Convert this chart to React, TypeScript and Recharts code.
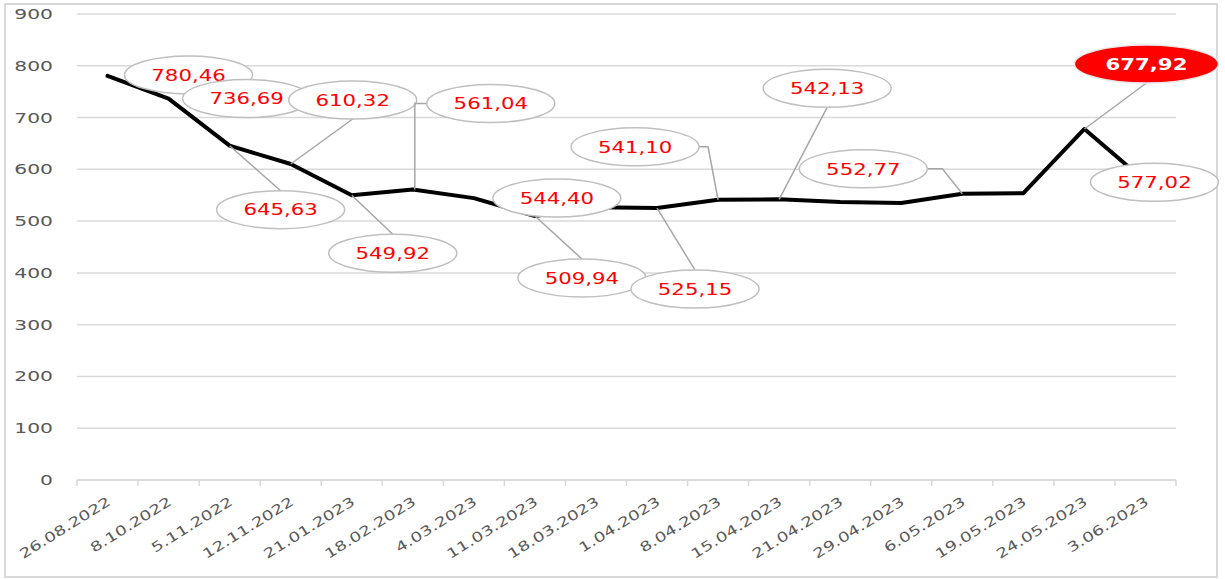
import { LineChart, Line, XAxis, YAxis, CartesianGrid, LabelList } from "recharts"

const DATES = [
  "26.08.2022", "8.10.2022", "5.11.2022", "12.11.2022", "21.01.2023", "18.02.2023",
  "4.03.2023", "11.03.2023", "18.03.2023", "1.04.2023", "8.04.2023", "15.04.2023",
  "21.04.2023", "29.04.2023", "6.05.2023", "19.05.2023", "24.05.2023", "3.06.2023",
]
const PRICES = [
  780.46, 736.69, 645.63, 610.32, 549.92, 561.04,
  544.4, 509.94, 527, 525.15, 541.1, 542.13,
  537, 535, 552.77, 554, 677.92, 577.02,
]
const Y_TICKS = [0, 100, 200, 300, 400, 500, 600, 700, 800, 900]

const W = 1225
const H = 579
const GRID = "#d9d9d9"
const TXT = "#595959"
const RED = "#ff0000"
const FONT = "'DejaVu Sans', Verdana, sans-serif"
const BAND = (1176 - 77) / DATES.length

// where each bubble sits relative to its point, and how the leader is drawn
type Lead = "none" | "line" | "up" | "side"
interface Bubble { dx: number; dy: number; lead: Lead; elbow?: number; hot?: boolean }
const BUBBLES: (Bubble | null)[] = [
  { dx: 81, dy: -1, lead: "none" },
  { dx: 78, dy: 0, lead: "none" },
  { dx: 51, dy: 64, lead: "line" },
  { dx: 62, dy: -64, lead: "line" },
  { dx: 41, dy: 58, lead: "line" },
  { dx: 78, dy: -86, lead: "up" },
  { dx: 83, dy: 0, lead: "none" },
  { dx: 47, dy: 62, lead: "line" },
  null,
  { dx: 38, dy: 81, lead: "line" },
  { dx: -83, dy: -53, lead: "side", elbow: 10 },
  { dx: 48, dy: -111, lead: "line" },
  null,
  null,
  { dx: -99, dy: -25, lead: "side", elbow: 20 },
  null,
  { dx: 62, dy: -65, lead: "line", hot: true },
  { dx: 9, dy: 1, lead: "none" },
]

const data = DATES.map((d, i) => ({ date: d, price: PRICES[i] }))

const fmt = (v: number) => v.toFixed(2).replace(".", ",")

function BubbleLabel(props: any) {
  const i = props.index
  const b = BUBBLES[i]
  if (!b) return null
  const x = props.x ?? props.viewBox?.x
  const y = props.y ?? props.viewBox?.y
  const rx = b.hot ? 72 : 64
  const ry = 19
  const cx = x + b.dx
  const cy = y + b.dy
  let leader: string | null = null
  if (b.lead === "line") leader = `M${x},${y}L${cx},${b.dy > 0 ? cy - ry : cy + ry}`
  if (b.lead === "up") leader = `M${x + 2},${y}L${x + 2},${cy}L${cx - rx},${cy}`
  if (b.lead === "side") leader = `M${cx + rx},${cy}L${x - (b.elbow || 0)},${cy}L${x},${y}`
  return (
    <g>
      {leader && <path d={leader} fill="none" stroke="#a6a6a6" strokeWidth={1.5} />}
      <ellipse cx={cx} cy={cy} rx={rx} ry={ry} fill={b.hot ? RED : "#fff"} stroke={b.hot ? "#e6e6e6" : "#bfbfbf"} strokeWidth={1.5} />
      <text
        transform={`translate(${cx},${cy}) scale(1.33,1)`}
        textAnchor="middle"
        dy="0.36em"
        fontFamily={FONT}
        fontSize={16}
        fontWeight={b.hot ? 700 : 400}
        fill={b.hot ? "#fff" : RED}
      >
        {fmt(PRICES[i])}
      </text>
    </g>
  )
}

function YTick({ y, payload }: any) {
  return (
    <text transform={`translate(53,${y}) scale(1.45,1)`} textAnchor="end" dy="0.36em" fontFamily={FONT} fontSize={14} fill={TXT}>
      {payload.value}
    </text>
  )
}

function XTick({ x, y, payload, index }: any) {
  const last = index === DATES.length - 1
  return (
    <g>
      <line x1={x - BAND / 2} x2={x - BAND / 2} y1={y} y2={y + 6} stroke={GRID} strokeWidth={1.5} />
      {last && <line x1={x + BAND / 2} x2={x + BAND / 2} y1={y} y2={y + 6} stroke={GRID} strokeWidth={1.5} />}
      <text transform={`translate(${x + 4},${y + 24}) rotate(-32) scale(1.35,1)`} textAnchor="end" fontFamily={FONT} fontSize={13.5} fill={TXT}>
        {payload.value}
      </text>
    </g>
  )
}

export default function App() {
  return (
    <div style={{ position: "absolute", left: 0, top: 0, width: W, height: H, background: "#fff" }}>
      <div style={{ position: "absolute", left: 4, top: 3, width: 1214, height: 575, border: `2px solid ${GRID}`, boxSizing: "border-box" }} />
      <LineChart width={W} height={H} data={data} margin={{ top: 14, right: 49, bottom: 0, left: 0 }}>
        <CartesianGrid vertical={false} stroke={GRID} strokeWidth={1.5} />
        <XAxis
          dataKey="date"
          height={99}
          interval={0}
          padding={{ left: BAND / 2, right: BAND / 2 }}
          tickSize={0}
          tickMargin={0}
          tick={<XTick />}
          axisLine={{ stroke: GRID, strokeWidth: 1.5 }}
          tickLine={false}
        />
        <YAxis domain={[0, 900]} ticks={Y_TICKS} width={77} tick={<YTick />} axisLine={false} tickLine={false} />
        <Line
          dataKey="price"
          type="linear"
          stroke="#000"
          strokeWidth={4}
          strokeLinejoin="round"
          strokeLinecap="round"
          dot={false}
          isAnimationActive={false}
        >
          <LabelList dataKey="price" content={<BubbleLabel />} />
        </Line>
      </LineChart>
    </div>
  )
}
